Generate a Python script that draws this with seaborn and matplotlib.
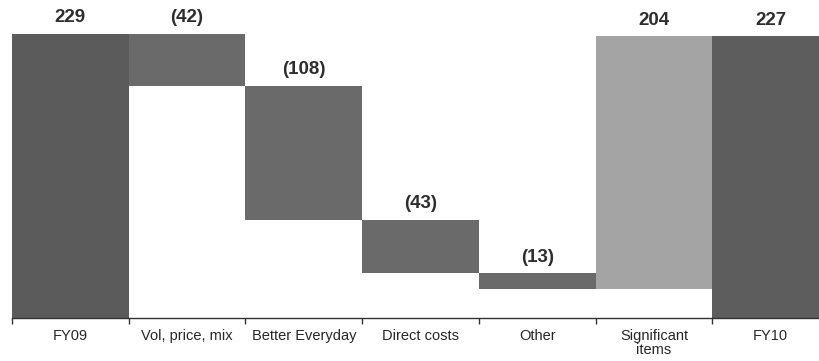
import numpy as np
import pandas as pd
import matplotlib
matplotlib.use("Agg")
import matplotlib.pyplot as plt
import seaborn as sns

# Bridge from FY09 to FY10
categories = ["FY09", "Vol, price, mix", "Better Everyday", "Direct costs",
              "Other", "Significant\nitems", "FY10"]
start_value = 229
changes = [-42, -108, -43, -13, 204]
end_value = 227
value_labels = ["229", "(42)", "(108)", "(43)", "(13)", "204", "227"]
bar_colors = ["#5b5b5b", "#6a6a6a", "#6a6a6a", "#6a6a6a", "#6a6a6a",
              "#a4a4a4", "#5d5d5d"]

# Floating bar extents
bottoms, heights = [0], [start_value]
running = start_value
for c in changes:
    lo = min(running, running + c)
    bottoms.append(lo)
    heights.append(abs(c))
    running += c
bottoms.append(0)
heights.append(end_value)

df = pd.DataFrame({"category": categories, "height": heights, "bottom": bottoms})

sns.set_theme(style="white")
plt.rcParams["font.family"] = ["Liberation Sans", "DejaVu Sans"]

fig = plt.figure(figsize=(8.2, 3.61), dpi=100)
ax = fig.add_axes([12 / 820, 43 / 361, 817 / 820, 318 / 361])

sns.barplot(data=df, x="category", y="height", bottom=df["bottom"].values,
            width=1.0, color=bar_colors[0], saturation=1, linewidth=0, ax=ax)
for patch, col in zip(ax.patches, bar_colors):
    patch.set_facecolor(col)
    patch.set_edgecolor("none")

for i, (b, h, lab) in enumerate(zip(bottoms, heights, value_labels)):
    ax.text(i, b + h + 6, lab, ha="center", va="bottom", fontsize=13.5,
            fontweight="bold", color="#2e2e2e")

ax.set_xlim(-0.5, 6.5)
ax.set_ylim(0, 256)
ax.set_xlabel("")
ax.set_ylabel("")
ax.set_yticks([])
for s in ["top", "right", "left"]:
    ax.spines[s].set_visible(False)
ax.spines["bottom"].set_color("#333333")
ax.spines["bottom"].set_linewidth(1.0)

ax.set_xticks(range(len(categories)))
ax.set_xticklabels(categories, fontsize=10.5, color="#262626", linespacing=1.0, va="top")
ax.tick_params(axis="x", which="major", length=0, pad=8)
ax.set_xticks(np.arange(-0.5, 6.5, 1.0), minor=True)
ax.tick_params(axis="x", which="minor", bottom=True, length=4, width=1, color="#333333")

fig.savefig("out.png", dpi=100)
